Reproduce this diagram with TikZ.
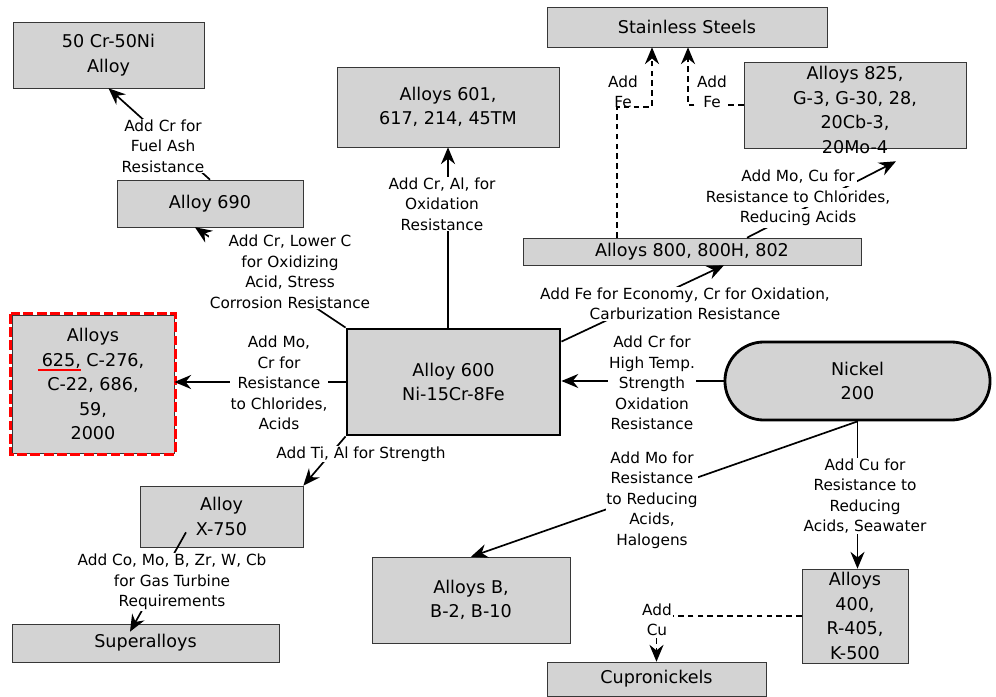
\documentclass[tikz,border=0pt]{standalone}
\usepackage{fontspec}
\setmainfont{DejaVu Sans}
\usetikzlibrary{arrows.meta}
\usetikzlibrary{calc}
\definecolor{boxgray}{RGB}{211,211,211}
\definecolor{edgegray}{RGB}{55,55,55}
\newcommand{\redul}[1]{\setbox0\hbox{#1}\rlap{\kern-3pt\color{red}\rule[-3.4pt]{\dimexpr\wd0+3pt\relax}{1.4pt}}\box0\relax}
\newcommand{\wline}[1]{{\fboxsep=1.8pt\colorbox{white}{#1}}}
\begin{document}
\begin{tikzpicture}[x=0.025cm,y=-0.025cm,
    >={Stealth[length=12pt,width=10pt,inset=4pt]},
    alloy/.style={draw=edgegray, fill=boxgray, rectangle, align=center, inner sep=0pt, font=\fontsize{12.5}{17.4}\selectfont},
    base/.style={alloy, draw=black, line width=2pt},
    note/.style={align=center, fill=white, inner sep=0.5pt, font=\fontsize{10.9}{14.6}\selectfont},
    link/.style={->, line width=1.2pt},
    feline/.style={->, line width=1.2pt, dash pattern=on 4pt off 3pt}]
	\useasboundingbox (0,0) rectangle (996,697);

	\node[alloy, minimum width=4.775cm, minimum height=1.65cm] (cr50) at (108.5,55) {50 Cr-50Ni\\Alloy};
	\node[alloy, minimum width=4.65cm, minimum height=1.175cm] (a690) at (210,203.5) {Alloy 690};
	\node[alloy, minimum width=5.55cm, minimum height=2cm] (a601) at (448,107) {Alloys 601,\\617, 214, 45TM};
	\node[alloy, minimum width=7cm, minimum height=1cm] (steel) at (687,27) {Stainless Steels};
	\node[alloy, minimum width=5.55cm, minimum height=2.15cm] (a825) at (855,105) {};
	\node[align=center, inner sep=0pt, font=\fontsize{12.5}{17.6}\selectfont] (a825txt) at (855,110) {Alloys 825,\\G-3, G-30, 28,\\20Cb-3,\\20Mo-4};
	\node[alloy, minimum width=8.45cm, minimum height=0.675cm] (a800) at (692,251.5) {Alloys 800, 800H, 802};
	\node[alloy, minimum width=4.05cm, minimum height=3.45cm] (a625) at (93,384) {Alloys\\\redul{625,} C-276,\\C-22, 686,\\59,\\2000};
	\draw[red, line width=2pt, dash pattern=on 7pt off 2.5pt] ($(a625.north west)+(-1,-1)$) rectangle ($(a625.south east)+(1,1)$);
	\node[base, minimum width=5.325cm, minimum height=2.65cm] (a600) at (453.5,382) {Alloy 600\\Ni-15Cr-8Fe};
	\node[base, rounded corners=0.97cm, minimum width=6.625cm, minimum height=1.95cm] (ni200) at (857.5,381) {Nickel\\200};
	\node[alloy, minimum width=4.075cm, minimum height=1.525cm] (x750) at (221.5,516.5) {Alloy\\X-750};
	\node[alloy, minimum width=6.675cm, minimum height=0.95cm] (super) at (145.5,643) {Superalloys};
	\node[alloy, minimum width=4.95cm, minimum height=2.15cm] (aB) at (471,600) {Alloys B,\\B-2, B-10};
	\node[alloy, minimum width=2.65cm, minimum height=2.35cm] (a400) at (855,616) {Alloys\\400,\\R-405,\\K-500};
	\node[alloy, minimum width=5.475cm, minimum height=0.85cm] (cupro) at (656.5,679) {Cupronickels};

	% connectors
	\draw[link] (a690.north) -- (cr50.south);
	\draw[link] (a600.north west) -- ($(a690.south)+(-15,0)$);
	\draw[link] (a600.north -| a601.south) -- (a601.south);
	\draw[link] ($(a600.north east)+(0,14)$) -- ($(a800.south)+(32,0)$);
	\draw[link] ($(a800.north)+(55,0)$) -- ($(a825.south)+(41,13)$);
	\coordinate (fe1) at (652,107);
	\coordinate (fe2) at (688,105);
	\draw[feline] ($(a800.north west)+(94,0)$) |- (fe1) -- (fe1 |- steel.south);
	\draw[feline] (a825.west) -- (fe2) -- (fe2 |- steel.south);
	\draw[link] (a600.west) -- (a600.west -| a625.east);
	\draw[link] (ni200.west) -- (ni200.west -| a600.east);
	\draw[link] (a600.south west) -- (x750.north east);
	\draw[link] ($(x750.south)+(-35.5,-15)$) -- ($(super.north)+(-15.5,8)$);
	\draw[link] (ni200.south) -- (aB.north);
	\draw[link] (ni200.south) -- (ni200.south |- a400.north);
	\draw[feline] (a400.west) -| (cupro.north);

	% labels
	\node[note] (fuelash) at (163,146) {Add Cr for\\Fuel Ash\\Resistance};
	\node[note] (oxacid) at (290,272) {Add Cr, Lower C\\for Oxidizing\\Acid, Stress\\Corrosion Resistance};
	\node[note] (oxres) at (442,204) {Add Cr, Al, for\\Oxidation\\Resistance};
	\node[note, fill=none] (fe1txt) at (623,92) {Add\\Fe};
	\node[note] (fe2txt) at (712,92) {Add\\Fe};
	\node[note, fill=none] (chlor) at (798,198) {\wline{Add Mo, Cu for}\\\wline{Resistance to Chlorides,}\\\wline{Reducing Acids}};
	\node[note] (econ) at (685,304) {Add Fe for Economy, Cr for Oxidation,\\Carburization Resistance};
	\node[note] (chlac) at (279,383) {Add Mo,\\Cr for\\Resistance\\to Chlorides,\\Acids};
	\node[note] (stren) at (361,454) {Add Ti, Al for Strength};
	\node[note] (hitemp) at (652,383) {Add Cr for\\High Temp.\\Strength\\Oxidation\\Resistance};
	\node[note] (halog) at (652,500) {Add Mo for\\Resistance\\to Reducing\\Acids,\\Halogens};
	\node[note] (seaw) at (865,496) {Add Cu for\\Resistance to\\Reducing\\Acids, Seawater};
	\node[note] (turb) at (172,582) {Add Co, Mo, B, Zr, W, Cb\\for Gas Turbine\\Requirements};
	\node[note] (cutxt) at (657,620) {Add\\Cu};
\end{tikzpicture}
\end{document}
